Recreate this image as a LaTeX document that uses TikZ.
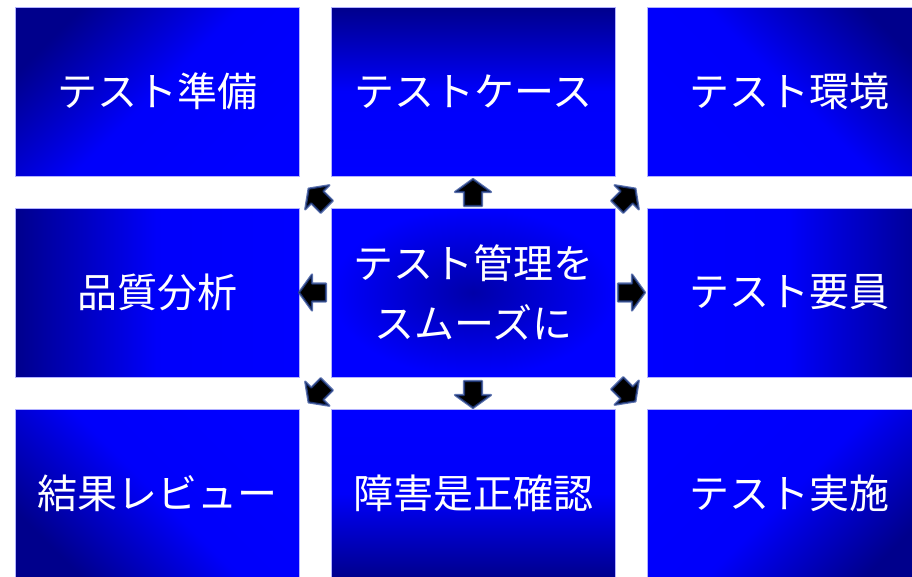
\documentclass[tikz,border=0pt]{standalone}
\usepackage{fontspec}
\usetikzlibrary{calc}
\newfontfamily\jp{Noto Sans CJK JP}
\definecolor{bblue}{RGB}{0,0,255}
\definecolor{dblue}{RGB}{0,0,140}
\definecolor{glowc}{RGB}{40,70,150}
\tikzset{
  card/.style={minimum width=284pt, minimum height=169pt, inner sep=0pt,
    draw=bblue!30!white, line width=0.6pt, text=white,
    font=\jp\fontsize{40}{60}\selectfont, align=center},
  outward/.style={shading=axis, top color=dblue, bottom color=bblue,
    middle color=bblue!96!dblue, shading angle=#1},
  hub/.style={shading=radial, inner color=dblue!75!bblue, outer color=bblue},
  blockarrow/.style={draw=glowc, draw opacity=0.75, line width=2.2pt,
    line join=round, fill=black}
}
\newcommand\blockarr[3]{%
  \filldraw[blockarrow, shift={#1}, rotate=#2, scale=#3]
    (-13,-9) -- (1,-9) -- (1,-18) -- (14,0) -- (1,18) -- (1,9) -- (-13,9) -- cycle;}
\begin{document}
\begin{tikzpicture}[x=1pt,y=1pt]
\useasboundingbox (0,0) rectangle (912,-576);
\begin{scope}
\clip (0,0) rectangle (912,-576);
% row 1
\node[card, outward=45]   (tl) at (157,-91.5)  {テスト準備};
\node[card, outward=0]    (tc) at (473,-91.5)  {テストケース};
\node[card, outward=-45]  (tr) at (789,-91.5)  {テスト環境};
% row 2
\node[card, outward=90]   (ml) at (157,-292.5) {品質分析};
\node[card, hub]          (hb) at (473,-292.5) {テスト管理を\\スムーズに};
\node[card, outward=-90]  (mr) at (789,-292.5) {テスト要員};
% row 3
\node[card, outward=135]  (bl) at (157,-493.5) {結果レビュー};
\node[card, outward=180]  (bc) at (473,-493.5) {障害是正確認};
\node[card, outward=225]  (br) at (789,-493.5) {テスト実施};
\end{scope}
% arrows from the hub outward
\blockarr{($(hb.north)!0.5!(tc.south)+(0,-1)$)}{90}{1}
\blockarr{($(hb.south)!0.5!(bc.north)+(0,-1)$)}{-90}{1}
\blockarr{($(hb.west)!0.5!(ml.east)+(-2,0)$)}{180}{1}
\blockarr{($(hb.east)!0.5!(mr.west)$)}{0}{1}
\blockarr{($(hb.north west)!0.5!(tl.south east)+(3,-6)$)}{135}{0.95}
\blockarr{($(hb.north east)!0.5!(tr.south west)+(-5,-6)$)}{45}{0.95}
\blockarr{($(hb.south west)!0.5!(bl.north east)+(3,0)$)}{225}{0.95}
\blockarr{($(hb.south east)!0.5!(br.north west)+(-5,1)$)}{-45}{0.95}
\end{tikzpicture}
\end{document}
